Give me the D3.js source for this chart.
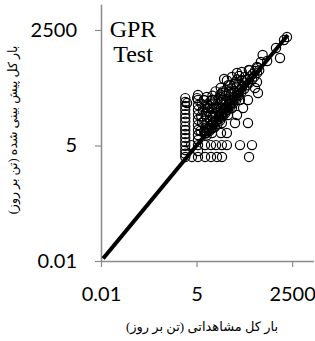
<!DOCTYPE html>
<html>
<head>
<meta charset="utf-8">
<script src="https://cdn.jsdelivr.net/npm/d3@7"></script>
<style>
  body { margin: 0; background: #fff; }
  svg { display: block; }
</style>
</head>
<body>
<svg id="chart" width="315" height="341"></svg>
<script>
// tick labels
const tickVals = [0.01, 5, 2500];

// observed (x) and predicted (y) total load, ton/day
const obsVals = [
  2.4,2.4,2.4,2.4,2.4,2.4,2.4,2.4,2.4,2.4,2.4,2.4,2.4,2.4,2.4,2.4,
  5.5,5.5,5.5,5.5,5.5,5.5,5.5,5.5,5.5,5.5,5.5,5.5,5.5,
  3.7,8.7,12.8,18.9,26.2,152,
  3.5,8.7,12.8,17.7,26,36,84.5,184,
  8.7,13.7,24.5,36,
  61,142,26,14.5,69.5,38.7,21.8,103,50,30,15.5,10.5,142,84,44,26,13.7,8.1,
  2.7,5.2,13.7,26,30,44,69.5,95,150,120,255,224,272,328,369,255,878,1140,1795,1480,
  6.5,7.2,6.8,7.5,7, 8.2,8.9,8.3,9,8.6,8.1, 9.6,10.4,10.1,9.8,10.6,10.2,9.7,
  11.5,12.4,12,12.8,11.8,12.5, 13.5,14.6,14.2,13.8,14.8,14.1, 16.5,17.4,16.9,17.8,16.6,17.2,
  19.5,20.8,20.2,19.6,21, 23,24.6,23.8,24.9,23.5,24.2, 27.2,28.8,27.9,28.4,27.5,
  32,34,33.2,32.6,34.4, 38.5,41,39.6,40.5,39, 46,49,47.5,48.8, 55,58.5,56,57.8,
  66,69.5,67,70, 78,82,79, 92,97,94, 112,118,114, 132,138, 156,163,158,
  186,194, 215,225, 255,264, 295,495,
  9,11,13,15,18,22,26,31,36,44,52,62,74,
  36,50,80,62
];
const predVals = [
  64,52,42,34,27,22,18,14,11.5,9.3,7.5,6,4.9,3.9,3.2,2.7,
  76,58,44,34,26,20,15,11.5,8.8,6.7,5.1,3.7,2.7,
  2.7,2.7,2.7,2.7,2.7,2.7,
  5.1,5.1,5.1,5.1,5.1,5.1,5.1,5.1,
  9.8,9.8,9.8,9.8,
  16.8,16.8,16.8,16.8,25.8,25.8,25.8,37.6,37.6,37.6,37.6,37.6,57.8,57.8,57.8,57.8,57.8,57.8,
  49,64,58,84,179,129,247,260,290,170,152,110,84,447,650,341,948,553,1713,1458,
  11,17,24,33,47, 10.5,13,19,27,39,57, 8.5,12.5,16,23,31,46,68,
  10.8,14.5,20,29,41,54, 12.5,17,24,36,48,73, 13.5,19,27,39,58,92,
  16,23,31,47,63, 19,27,37,52,78,112, 24,33,46,63,92,
  28,39,53,72,98, 34,47,62,88,128, 41,58,79,108, 49,68,92,137,
  58,83,118,175, 73,98,138, 88,118,168, 106,148,198, 127,176, 148,206,288,
  176,236, 205,275, 245,325, 285,470,
  9.5,11.5,13,15.5,18,21,26,30,37,44,53,62,76,
  165,200,210,150
];

// 1:1 line ends
const lineObs = [0.0115, 1900];
const linePred = [0.0115, 1900];

const points = obsVals.map((v, i) => ({ obs: v, pred: predVals[i] }));

const svg = d3.select("#chart");

const x = d3.scaleLog().domain([0.01, 10000]).range([101, 313.4]);
const y = d3.scaleLog().domain([0.01, 10000]).range([261, 4.2]);

const axisColor = "#8a8a8a";
const tickFont = "Lato, 'Open Sans', sans-serif";

// y axis
const yAxis = svg.append("g")
  .attr("transform", "translate(101,0)")
  .call(d3.axisLeft(y).tickValues(tickVals).tickFormat(d => d)
    .tickSize(6).tickSizeOuter(0).tickPadding(18));
yAxis.select(".domain").attr("stroke", axisColor).attr("stroke-width", 1.5);
yAxis.selectAll(".tick line").attr("stroke", axisColor).attr("stroke-width", 1.2);
yAxis.selectAll(".tick text")
  .attr("fill", "#000")
  .attr("font-family", tickFont)
  .attr("font-size", "20px");

// x axis
const xAxis = svg.append("g")
  .attr("transform", "translate(0,261)")
  .call(d3.axisBottom(x).tickValues(tickVals).tickFormat(d => d)
    .tickSize(6).tickSizeOuter(0).tickPadding(20));
xAxis.select(".domain").attr("stroke", axisColor).attr("stroke-width", 1.5);
xAxis.selectAll(".tick line").attr("stroke", axisColor).attr("stroke-width", 1.2);
xAxis.selectAll(".tick text")
  .attr("fill", "#000")
  .attr("font-family", tickFont)
  .attr("font-size", "20px");

// scatter
svg.append("g")
  .selectAll("circle")
  .data(points)
  .enter()
  .append("circle")
  .attr("cx", d => x(d.obs))
  .attr("cy", d => y(d.pred))
  .attr("r", 4.6)
  .attr("fill", "none")
  .attr("stroke", "#000")
  .attr("stroke-width", 1.2);

// 1:1 line
const line = d3.line().x(d => x(d[0])).y(d => y(d[1]));
svg.append("path")
  .datum(lineObs.map((v, i) => [v, linePred[i]]))
  .attr("d", line)
  .attr("fill", "none")
  .attr("stroke", "#000")
  .attr("stroke-width", 4);

// GPR / Test label
const lbl = svg.append("text")
  .attr("font-family", "'Liberation Serif', 'Times New Roman', serif")
  .attr("font-size", "24px")
  .attr("text-anchor", "middle")
  .attr("fill", "#000");
lbl.append("tspan").attr("x", 133).attr("y", 37).text("GPR");
lbl.append("tspan").attr("x", 133).attr("y", 62).text("Test");

// axis titles
svg.append("text")
  .attr("transform", "translate(17,130) rotate(-90)")
  .attr("text-anchor", "middle")
  .attr("font-family", "'Times New Roman', 'DejaVu Sans', serif")
  .attr("font-size", "12.5px")
  .attr("fill", "#000")
  .text("بار کل پیش بینی شده (تن بر روز)");

svg.append("text")
  .attr("x", 202)
  .attr("y", 331)
  .attr("text-anchor", "middle")
  .attr("font-family", "'Times New Roman', 'DejaVu Sans', serif")
  .attr("font-size", "13px")
  .attr("fill", "#000")
  .text("بار کل مشاهداتی (تن بر روز)");
</script>
</body>
</html>
